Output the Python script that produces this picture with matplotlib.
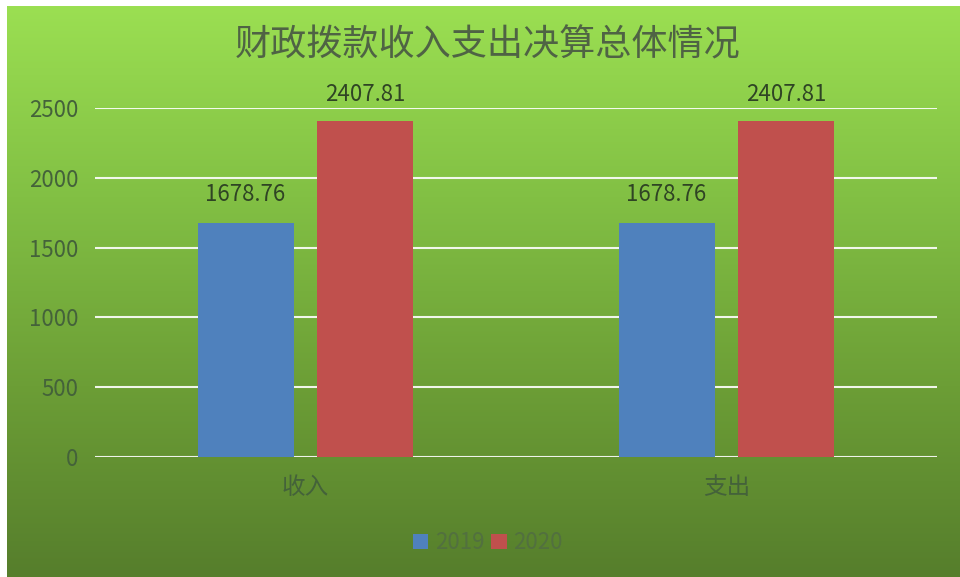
import numpy as np
import matplotlib
matplotlib.use("Agg")
import matplotlib.pyplot as plt
from matplotlib.colors import LinearSegmentedColormap

plt.rcParams['font.family'] = ['Noto Sans CJK SC', 'DejaVu Sans']

# data
categories = ['收入', '支出']
series_names = ['2019', '2020']
values_2019 = [1678.76, 1678.76]
values_2020 = [2407.81, 2407.81]
y_ticks = [0, 500, 1000, 1500, 2000, 2500]

fig = plt.figure(figsize=(9.6, 5.77), dpi=100)
fig.patch.set_facecolor('white')

# green gradient panel behind the chart (light at top, darker at bottom)
bg = fig.add_axes([7 / 960, 0, 1 - 7 / 960, 1 - 6 / 577])
bg.set_axis_off()
cmap = LinearSegmentedColormap.from_list(
    'panel', ['#9bdf52', '#82c044', '#6c9e36', '#567e2c'])
grad = np.linspace(0, 1, 256).reshape(-1, 1)
bg.imshow(grad, aspect='auto', cmap=cmap, extent=[0, 1, 0, 1], origin='upper')

ax = fig.add_axes([95 / 960, 120 / 577, 842 / 960, 349 / 577])
ax.patch.set_alpha(0)

x = np.arange(len(categories))
w = 0.228
off = 0.1425
b1 = ax.bar(x - off, values_2019, w, color='#4f81bd', label=series_names[0], zorder=3)
b2 = ax.bar(x + off, values_2020, w, color='#c0504d', label=series_names[1], zorder=3)

label_color = '#2f4424'
ax.bar_label(b1, labels=[f'{v:.2f}' for v in values_2019], padding=12,
             fontsize=16, color=label_color, clip_on=False)
ax.bar_label(b2, labels=[f'{v:.2f}' for v in values_2020], padding=11,
             fontsize=16, color=label_color, clip_on=False)

ax.set_xlim(-0.5, 1.5)
ax.set_ylim(0, 2500)
ax.set_yticks(y_ticks)
ax.set_xticks(x)
ax.set_xticklabels(categories)
ax.yaxis.grid(True, color='white', linewidth=1.5, alpha=0.9, zorder=1)
for s in ax.spines.values():
    s.set_visible(False)
ax.tick_params(axis='y', length=0, pad=12, labelsize=16, labelcolor='#44623a')
ax.tick_params(axis='x', length=0, pad=14, labelsize=17, labelcolor='#44623a')

fig.text(0.508, 0.922, '财政拨款收入支出决算总体情况', ha='center', va='center',
         fontsize=26, color='#4f6344', fontweight='light')

fig.legend(handles=[b1, b2], labels=series_names, loc='center',
           bbox_to_anchor=(0.508, 0.059), ncol=2, frameon=False,
           handlelength=0.7, handleheight=0.7, columnspacing=0.3,
           handletextpad=0.3, fontsize=16, labelcolor='#52703f')

plt.savefig('out.png', dpi=100)
